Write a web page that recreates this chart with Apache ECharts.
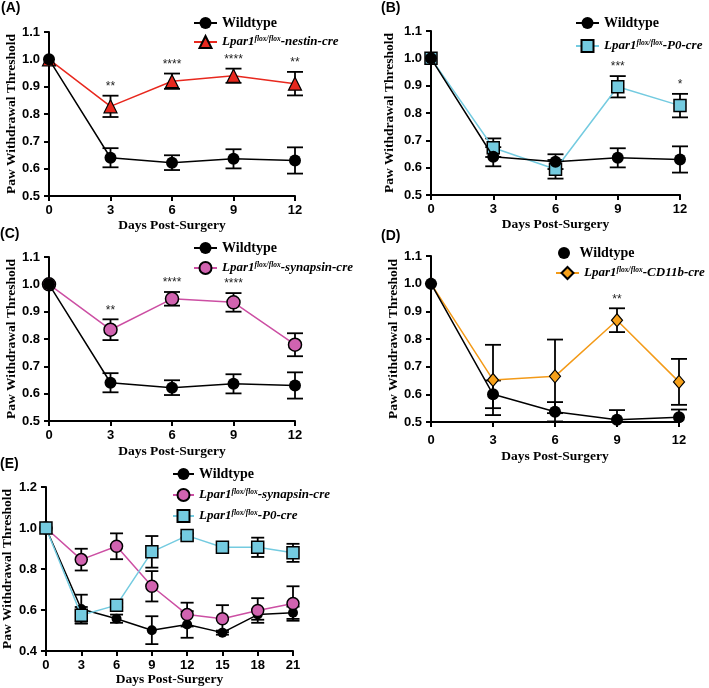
<!DOCTYPE html>
<html><head><meta charset="utf-8">
<script src="https://cdn.jsdelivr.net/npm/echarts@6/dist/echarts.min.js"></script>
<style>html,body{margin:0;padding:0;background:#fff}#c{width:709px;height:688px}</style>
</head><body><div id="c"></div><script>
// ---------- data ----------
const days12 = [0, 3, 6, 9, 12];
const days21 = [0, 3, 6, 9, 12, 15, 18, 21];
const panelLabels = ['(A)', '(B)', '(C)', '(D)', '(E)'];
const xAxisName = 'Days Post-Surgery';
const yAxisName = 'Paw Withdrawal Threshold';

// Panels A-C share the same wildtype group
const wtMean = [1.0, 0.640, 0.622, 0.636, 0.630];
const wtSem  = [0, 0.035, 0.027, 0.035, 0.048];

const nestinMean = [1.0, 0.828, 0.920, 0.940, 0.911];
const nestinSem  = [0, 0.039, 0.028, 0.026, 0.043];
const nestinStars = ['', '**', '****', '****', '**'];

const p0Mean = [1.0, 0.673, 0.594, 0.896, 0.827];
const p0Sem  = [0, 0.034, 0.034, 0.039, 0.043];
const p0Stars = ['', '', '', '***', '*'];

const synMean = [1.0, 0.834, 0.947, 0.934, 0.779];
const synSem  = [0, 0.038, 0.025, 0.034, 0.042];
const synStars = ['', '**', '****', '****', ''];

const wtDMean = [1.0, 0.600, 0.537, 0.508, 0.517];
const wtDSem  = [0, 0.050, 0.035, 0.035, 0.028];
const cd11Mean = [1.0, 0.652, 0.665, 0.868, 0.645];
const cd11Sem  = [0, 0.127, 0.133, 0.043, 0.083];
const cd11Stars = ['', '', '', '**', ''];

const wtEMean = [1.0, 0.605, 0.558, 0.502, 0.530, 0.490, 0.578, 0.587];
const wtESem  = [0, 0.070, 0.020, 0.068, 0.065, 0.010, 0.025, 0.030];
const synEMean = [1.0, 0.846, 0.911, 0.716, 0.578, 0.558, 0.598, 0.632];
const synESem  = [0, 0.053, 0.063, 0.074, 0.058, 0.066, 0.060, 0.084];
const p0EMean = [1.0, 0.575, 0.624, 0.884, 0.963, 0.906, 0.906, 0.879];
const p0ESem  = [0, 0.040, 0.010, 0.077, 0.010, 0.010, 0.047, 0.044];

// ---------- styles ----------
const SERIF = 'Liberation Serif';
const SANS = 'Liberation Sans';
const styles = {
  wt:  {symbol: 'circle', size: 12, fill: '#000', bw: 0, line: '#000'},
  nes: {symbol: 'triangle', size: 13, fill: '#E8281E', bw: 1.2, line: '#E8281E'},
  p0:  {symbol: 'rect', size: 12, fill: '#74CBE0', bw: 1.5, line: '#74CBE0'},
  syn: {symbol: 'circle', size: 13, fill: '#D163B0', bw: 1.5, line: '#CC4FA3'},
  cd:  {symbol: 'diamond', size: [11, 13], fill: '#F7A11A', bw: 1.2, line: '#F39A18'}
};
const NAMES = {
  wt: 'Wildtype', nes: 'Lpar1-nestin-cre', p0: 'Lpar1-P0-cre',
  syn: 'Lpar1-synapsin-cre', cd: 'Lpar1-CD11b-cre'
};

const grids = [
  {left: 49, top: 32, width: 246, height: 164},
  {left: 431, top: 31, width: 249, height: 164},
  {left: 49, top: 257, width: 246, height: 164},
  {left: 431, top: 256, width: 248, height: 166},
  {left: 45, top: 487, width: 248, height: 165}
];
const yMin = [0.5, 0.5, 0.5, 0.5, 0.4];
const yMax = [1.1, 1.1, 1.1, 1.1, 1.2];
const titlePos = [[1, 1], [381, 1], [0, 227], [381, 229], [0, 457]];
const yNameGap = [30, 34, 30, 29, 27];
const xNameGap = [23, 23, 24, 28, 21];
const xLabelMargin = [8, 8, 8, 12, 8];

function lineSeries(key, xs, ys, g, z, size) {
  const st = styles[key];
  return {
    type: 'line', name: NAMES[key], xAxisIndex: g, yAxisIndex: g,
    data: xs.map((x, i) => [x, ys[i]]),
    symbol: st.symbol, symbolSize: size || st.size, showSymbol: true,
    itemStyle: {color: st.fill, borderColor: '#000', borderWidth: st.bw},
    lineStyle: {color: st.line, width: 1.5},
    z: z, animation: false, emphasis: {disabled: true}, silent: true
  };
}
function errSeries(xs, ys, es, stars, g, capW) {
  const lo = yMin[g];
  return {
    type: 'custom', xAxisIndex: g, yAxisIndex: g, z: 1, silent: true, animation: false, clip: false,
    data: xs.map((x, i) => [x, ys[i], es[i]]),
    renderItem: function (params, api) {
      const i = params.dataIndex;
      const x = api.value(0), m = api.value(1), e = api.value(2);
      const pTop = api.coord([x, m + e]);
      const below = (m - e) < lo;
      const pBot = api.coord([x, below ? lo : m - e]);
      const children = [];
      const ls = {stroke: '#000', lineWidth: 1.8};
      if (e > 0) {
        children.push({type: 'line', shape: {x1: pTop[0], y1: pTop[1], x2: pBot[0], y2: pBot[1]}, style: ls});
        children.push({type: 'line', shape: {x1: pTop[0] - capW / 2, y1: pTop[1], x2: pTop[0] + capW / 2, y2: pTop[1]}, style: ls});
        if (!below) {
          children.push({type: 'line', shape: {x1: pBot[0] - capW / 2, y1: pBot[1], x2: pBot[0] + capW / 2, y2: pBot[1]}, style: ls});
        }
      }
      if (stars && stars[i]) {
        children.push({type: 'text', style: {text: stars[i], x: pTop[0], y: pTop[1] - 3,
          align: 'center', verticalAlign: 'bottom', font: '12px ' + SANS, fill: '#222'}});
      }
      return {type: 'group', children: children};
    }
  };
}

const series = [];
// A
series.push(errSeries(days12, wtMean, wtSem, null, 0, 16));
series.push(errSeries(days12, nestinMean, nestinSem, nestinStars, 0, 16));
series.push(lineSeries('nes', days12, nestinMean, 0, 3));
series.push(lineSeries('wt', days12, wtMean, 0, 4));
// B
series.push(errSeries(days12, wtMean, wtSem, null, 1, 16));
series.push(errSeries(days12, p0Mean, p0Sem, p0Stars, 1, 16));
series.push(lineSeries('p0', days12, p0Mean, 1, 3));
series.push(lineSeries('wt', days12, wtMean, 1, 4));
// C
series.push(errSeries(days12, wtMean, wtSem, null, 2, 16));
series.push(errSeries(days12, synMean, synSem, synStars, 2, 16));
series.push(lineSeries('syn', days12, synMean, 2, 3));
series.push(lineSeries('wt', days12, wtMean, 2, 4));
// D
series.push(errSeries(days12, wtDMean, wtDSem, null, 3, 16));
series.push(errSeries(days12, cd11Mean, cd11Sem, cd11Stars, 3, 16));
series.push(lineSeries('cd', days12, cd11Mean, 3, 3));
series.push(lineSeries('wt', days12, wtDMean, 3, 4));
// E
series.push(errSeries(days21, wtEMean, wtESem, null, 4, 13));
series.push(errSeries(days21, synEMean, synESem, null, 4, 13));
series.push(errSeries(days21, p0EMean, p0ESem, null, 4, 13));
series.push(lineSeries('wt', days21, wtEMean, 4, 3, 10));
series.push(lineSeries('syn', days21, synEMean, 4, 4, 12));
series.push(lineSeries('p0', days21, p0EMean, 4, 5, 12));

const xAxes = grids.map((g, k) => ({
  type: 'value', gridIndex: k, min: 0, max: k === 4 ? 21 : 12, interval: 3,
  name: xAxisName, nameLocation: 'middle', nameGap: xNameGap[k],
  nameTextStyle: {fontFamily: SERIF, fontWeight: 'bold', fontSize: 13.5, color: '#000'},
  axisLine: {show: true, lineStyle: {color: '#000', width: 2}},
  axisTick: {show: true, length: 5, lineStyle: {color: '#000', width: 2}},
  axisLabel: {margin: xLabelMargin[k], fontFamily: SANS, fontWeight: 'bold', fontSize: 13, color: '#000'},
  splitLine: {show: false}
}));
const yAxes = grids.map((g, k) => ({
  type: 'value', gridIndex: k, min: yMin[k], max: yMax[k], interval: k === 4 ? 0.2 : 0.1,
  name: yAxisName, nameLocation: 'middle', nameGap: yNameGap[k], nameRotate: 90,
  nameTextStyle: {fontFamily: SERIF, fontWeight: 'bold', fontSize: 13.5, color: '#000'},
  axisLine: {show: true, lineStyle: {color: '#000', width: 2}},
  axisTick: {show: true, length: 5, lineStyle: {color: '#000', width: 2}},
  axisLabel: {margin: 9, fontFamily: SANS, fontWeight: 'bold', fontSize: 13, color: '#000',
    formatter: v => v.toFixed(1)},
  splitLine: {show: false}
}));

const rich = {
  n: {fontFamily: SERIF, fontWeight: 'bold', fontSize: 14, color: '#000'},
  i: {fontFamily: SERIF, fontWeight: 'bold', fontStyle: 'italic', fontSize: 13, color: '#000'},
  s: {fontFamily: SERIF, fontWeight: 'bold', fontStyle: 'italic', fontSize: 7.5, color: '#000', verticalAlign: 'top', padding: [0, 0, 5, 0]}
};
function legFmt(name) {
  if (name.indexOf('Lpar1') === 0) return '{i|Lpar1}{s|flox/flox}{i|' + name.slice(5) + '}';
  return '{n|' + name + '}';
}
function leg(item, left, top, w, h) {
  return {left: left, top: top, orient: 'vertical', data: [item], itemWidth: w || 23, itemHeight: h || 15,
    padding: 0, itemGap: 0, selectedMode: false, formatter: legFmt,
    textStyle: {fontFamily: SERIF, fontWeight: 'bold', fontSize: 14, color: '#000', rich: rich}};
}
const legends = [
  leg(NAMES.wt, 193, 16), leg(NAMES.nes, 193, 35),
  leg(NAMES.wt, 575, 16), leg(NAMES.p0, 575, 39),
  leg(NAMES.wt, 193, 241), leg(NAMES.syn, 193, 261),
  leg({name: NAMES.wt, icon: 'circle'}, 558, 246, 21, 12), leg(NAMES.cd, 555, 266),
  leg(NAMES.wt, 172, 467, 21), leg(NAMES.syn, 172, 488, 21), leg(NAMES.p0, 172, 509, 21)
];

const titles = panelLabels.map((t, k) => ({
  text: t, left: titlePos[k][0], top: titlePos[k][1], padding: 0,
  textStyle: {fontFamily: SANS, fontWeight: 'bold', fontSize: 14, color: '#000'}
}));

const chart = echarts.init(document.getElementById('c'), null, {renderer: 'canvas'});
chart.setOption({
  backgroundColor: '#fff', animation: false,
  title: titles, grid: grids, xAxis: xAxes, yAxis: yAxes, legend: legends, series: series,
  tooltip: {show: false}
});
</script></body></html>
